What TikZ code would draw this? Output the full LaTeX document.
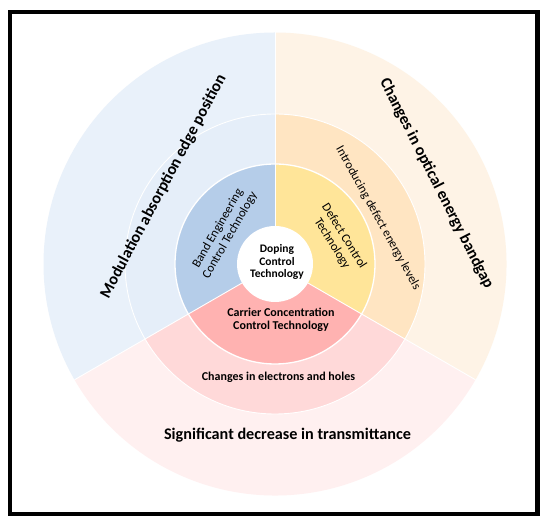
\documentclass[tikz,border=0pt]{standalone}
\usepackage{fontspec}
\setmainfont{Carlito}
\definecolor{obl}{HTML}{E9F1FA}
\definecolor{mbl}{HTML}{E5EEF9}
\definecolor{ibl}{HTML}{B5CDE9}
\definecolor{oor}{HTML}{FEF3E6}
\definecolor{mor}{HTML}{FFE5C2}
\definecolor{iye}{HTML}{FFE599}
\definecolor{opk}{HTML}{FFF0F0}
\definecolor{mpk}{HTML}{FFD9D9}
\definecolor{ird}{HTML}{FFB2B1}
\tikzset{
  lbl/.style={align=center, inner sep=0pt, text=black},
  bigl/.style={lbl, font=\bfseries\fontsize{16.2}{19}\selectfont},
  ctrl/.style={lbl, font=\bfseries\fontsize{11.5}{12.5}\selectfont},
  midl/.style={lbl, font=\bfseries\fontsize{12}{13}\selectfont},
  regl/.style={lbl, font=\fontsize{12.5}{14}\selectfont},
  sep/.style={white, line width=0.9pt}
}
\begin{document}
\begin{tikzpicture}[x=1pt,y=1pt]
\useasboundingbox (0,0) rectangle (550,522);
\fill[white] (0,0) rectangle (550,522);
\begin{scope}[shift={(275,258)}]
  % outer ring
  \fill[obl] (0,0) -- (90:231.5pt) arc[start angle=90, end angle=210, radius=231.5pt] -- cycle;
  \fill[opk] (0,0) -- (210:231.5pt) arc[start angle=210, end angle=330, radius=231.5pt] -- cycle;
  \fill[oor] (0,0) -- (-30:231.5pt) arc[start angle=-30, end angle=90, radius=231.5pt] -- cycle;
  % middle ring
  \fill[mbl] (0,0) -- (90:150pt) arc[start angle=90, end angle=210, radius=150pt] -- cycle;
  \fill[mpk] (0,0) -- (210:150pt) arc[start angle=210, end angle=330, radius=150pt] -- cycle;
  \fill[mor] (0,0) -- (-30:150pt) arc[start angle=-30, end angle=90, radius=150pt] -- cycle;
  % inner ring
  \fill[ibl] (0,0) -- (90:100pt) arc[start angle=90, end angle=210, radius=100pt] -- cycle;
  \fill[ird] (0,0) -- (210:100pt) arc[start angle=210, end angle=330, radius=100pt] -- cycle;
  \fill[iye] (0,0) -- (-30:100pt) arc[start angle=-30, end angle=90, radius=100pt] -- cycle;
  % separators
  \draw[sep] (0,0) circle[radius=150pt];
  \draw[sep, line width=1.3pt] (0,0) circle[radius=100pt];
  \draw[sep] (0,0) -- (90:231.5pt);
  \draw[sep] (0,0) -- (210:231.5pt);
  \draw[sep] (0,0) -- (330:231.5pt);
  \fill[white] (0,0) circle[radius=38pt];
\end{scope}
% frame
\draw[black, line width=4.5pt] (10,8) rectangle (537.5,510);
% labels
\node[ctrl] (dop) at (277,260) {Doping\\Control\\Technology};
\node[midl] (car) at (281,202) {Carrier Concentration\\Control Technology};
\node[midl] (chg) at (278.5,145) {Changes in electrons and holes};
\node[bigl] (sig) at (287.5,87) {Significant decrease in transmittance};
\node[regl, rotate=60] (band) at (224,290) {Band Engineering\\Control Technology};
\node[regl, rotate=-58] (def) at (338,282) {Defect Control\\Technology};
\node[regl, rotate=-61] (intro) at (378,304) {Introducing defect energy levels};
\node[bigl, rotate=-63] (opt) at (436.5,338.5) {Changes in optical energy bandgap};
\node[bigl, rotate=62] (mod) at (163.5,335.5) {Modulation absorption edge position};
\end{tikzpicture}
\end{document}
